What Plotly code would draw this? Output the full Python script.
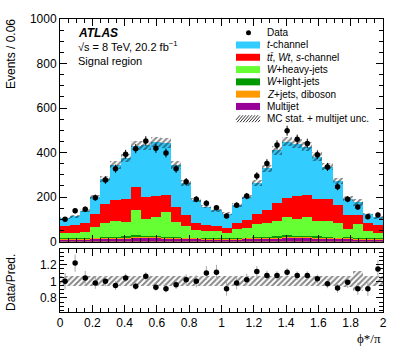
import numpy as np
import plotly.graph_objects as go

# Binning: 32 bins in phi*/pi from 0 to 2
bin_lo, bin_hi, n_bins = 0.0, 2.0, 32

# Observed data (events per bin)
data = [100, 138, 145, 197, 276, 327, 392, 417, 452, 419, 398, 327, 269, 190, 172, 152,
        115, 163, 204, 294, 351, 434, 498, 459, 441, 390, 335, 246, 190, 155, 111, 119]

# Predicted contributions per bin
t_channel = [34, 37, 54, 76, 111, 157, 187, 186, 233, 244, 234, 190, 146, 106, 82, 70,
             64, 79, 103, 138, 188, 236, 252, 237, 217, 193, 147, 110, 72, 56, 40, 33]
ttbar_wt_s = [33, 36, 41, 57, 87, 93, 101, 102, 99, 92, 74, 65, 48, 30, 25, 23,
              24, 30, 38, 45, 57, 80, 88, 100, 99, 98, 98, 77, 62, 41, 38, 35]
w_heavy = [22, 26, 27, 50, 62, 72, 63, 115, 77, 88, 112, 68, 52, 35, 33, 32,
           23, 40, 41, 60, 63, 71, 82, 77, 83, 66, 70, 67, 36, 62, 32, 26]
w_light = [3, 3, 4, 3, 4, 5, 8, 6, 4, 5, 4, 4, 3, 3, 4, 3,
           3, 3, 4, 4, 5, 5, 6, 5, 7, 7, 4, 3, 8, 4, 3, 3]
z_diboson = [4, 3, 4, 4, 5, 5, 5, 6, 5, 5, 5, 5, 4, 4, 3, 3,
             3, 3, 4, 4, 5, 5, 6, 6, 5, 5, 5, 4, 4, 4, 3, 3]
multijet = [8, 8, 9, 10, 11, 12, 13, 15, 14, 14, 13, 12, 11, 10, 9, 9,
            8, 9, 10, 11, 12, 13, 15, 15, 14, 13, 12, 11, 10, 9, 8, 8]

# Data / prediction ratio
ratio = [1.00, 1.22, 1.04, 0.98, 1.00, 0.95, 1.04, 0.94, 1.06, 0.93, 0.91, 0.96, 1.02, 1.00, 1.10, 1.11,
         0.91, 0.98, 1.02, 1.12, 1.07, 1.07, 1.11, 1.07, 1.07, 1.03, 0.97, 0.92, 0.99, 0.91, 0.91, 1.15]

# relative MC stat + multijet uncertainty
rel_unc = [0.06, 0.06, 0.06, 0.06, 0.06, 0.06, 0.06, 0.06, 0.06, 0.06, 0.06, 0.06, 0.06, 0.06, 0.06, 0.06,
           0.06, 0.06, 0.06, 0.06, 0.06, 0.06, 0.06, 0.06, 0.06, 0.06, 0.06, 0.06, 0.07, 0.12, 0.06, 0.06]

width = (bin_hi - bin_lo) / n_bins
centers = bin_lo + width * (np.arange(n_bins) + 0.5)

# stack (bottom -> top)
components = [
    ("Multijet", multijet, "#990099"),
    ("Z+jets, diboson", z_diboson, "#FF9900"),
    ("W+light-jets", w_light, "#009900"),
    ("W+heavy-jets", w_heavy, "#66FF33"),
    ("ttbar, Wt, s-channel", ttbar_wt_s, "#FF0000"),
    ("t-channel", t_channel, "#33CCFF"),
]
cum = np.cumsum([np.array(c[1], dtype=float) for c in components], axis=0)
total = cum[-1]
unc = total * np.array(rel_unc) * 0.8

FONT = "Liberation Sans, Arial, sans-serif"
fig = go.Figure()

# draw the cumulative stacks from the top down so they overlay correctly
for i in reversed(range(len(components))):
    name, vals, col = components[i]
    fig.add_trace(go.Bar(x=centers, y=cum[i], width=width, marker=dict(color=col, line=dict(width=0)),
                         showlegend=False, xaxis="x", yaxis="y"))

hatch = dict(shape="/", fgcolor="#111111", bgcolor="rgba(0,0,0,0)", size=4, solidity=0.5)
fig.add_trace(go.Bar(x=centers, y=2 * unc, base=total - unc, width=width,
                     marker=dict(color="rgba(0,0,0,0)", line=dict(width=0), pattern=hatch),
                     showlegend=False, xaxis="x", yaxis="y"))

fig.add_trace(go.Scatter(x=centers, y=data, mode="markers",
                         marker=dict(color="black", size=5.5),
                         error_y=dict(type="data", array=np.sqrt(data), color="black", thickness=1, width=0),
                         showlegend=False, xaxis="x", yaxis="y"))

# ratio panel
fig.add_trace(go.Bar(x=centers, y=2 * np.array(rel_unc), base=1 - np.array(rel_unc), width=width,
                     marker=dict(color="rgba(0,0,0,0)", line=dict(width=0), pattern=hatch),
                     showlegend=False, xaxis="x2", yaxis="y2"))
ratio_err = np.array(ratio) / np.sqrt(data)
fig.add_trace(go.Scatter(x=centers, y=ratio, mode="markers",
                         marker=dict(color="black", size=5.5),
                         error_y=dict(type="data", array=ratio_err, color="#aaaaaa", thickness=1, width=0),
                         showlegend=False, xaxis="x2", yaxis="y2"))

# pixel -> paper helpers (plot area 60..383 x, 19..312 y)
def px(x):
    return (x - 60) / 323.0

def py(y):
    return (312 - y) / 293.0

axis_common = dict(showline=True, linecolor="black", linewidth=1, mirror="allticks",
                   ticks="inside", ticklen=7, tickcolor="black", showgrid=False, zeroline=False,
                   tickfont=dict(family=FONT, size=12, color="black"))

fig.update_layout(
    width=399, height=355,
    margin=dict(l=60, r=16, t=19, b=43),
    plot_bgcolor="white", paper_bgcolor="white",
    barmode="overlay", bargap=0,
    font=dict(family=FONT, color="black"),
    xaxis=dict(domain=[0, 1], anchor="y", range=[0, 2], dtick=0.2, showticklabels=False,
               minor=dict(ticks="inside", ticklen=4, dtick=0.05, tickcolor="black"), **axis_common),
    yaxis=dict(domain=[py(241.5), 1], anchor="x", range=[0, 1000], dtick=200,
               minor=dict(ticks="inside", ticklen=4, dtick=50, tickcolor="black"), **axis_common),
    xaxis2=dict(domain=[0, 1], anchor="y2", range=[0, 2], dtick=0.2, matches="x",
                tickvals=[0, 0.2, 0.4, 0.6, 0.8, 1, 1.2, 1.4, 1.6, 1.8, 2],
                ticktext=["0", "0.2", "0.4", "0.6", "0.8", "1", "1.2", "1.4", "1.6", "1.8", "2"],
                minor=dict(ticks="inside", ticklen=4, dtick=0.05, tickcolor="black"), **axis_common),
    yaxis2=dict(domain=[0, py(249)], anchor="x2", range=[0.63, 1.39],
                tickvals=[0.8, 1, 1.2], ticktext=["0.8", "1", "1.2"],
                minor=dict(ticks="inside", ticklen=4, dtick=0.05, tickcolor="black"), **axis_common),
)

ann = []
# axis titles
ann.append(dict(text="Events / 0.06", x=px(11), y=py(54), xref="paper", yref="paper", textangle=-90,
                showarrow=False, xanchor="center", yanchor="middle", font=dict(size=12)))
ann.append(dict(text="Data/Pred.", x=px(11), y=py(283), xref="paper", yref="paper", textangle=-90,
                showarrow=False, xanchor="center", yanchor="middle", font=dict(size=12)))
ann.append(dict(text="\u03d5*/\u03c0", x=1, y=py(338), xref="paper", yref="paper",
                showarrow=False, xanchor="right", yanchor="middle",
                font=dict(size=13, family="Liberation Serif, Times New Roman, serif")))
# ATLAS label
ann.append(dict(text="<b><i>ATLAS</i></b>", x=px(76), y=py(32.5), xref="paper", yref="paper",
                showarrow=False, xanchor="left", yanchor="middle", font=dict(size=12)))
ann.append(dict(text="\u221as = 8 TeV, 20.2 fb<sup>\u22121</sup>", x=px(76), y=py(46), xref="paper", yref="paper",
                showarrow=False, xanchor="left", yanchor="middle", font=dict(size=11)))
ann.append(dict(text="Signal region", x=px(76), y=py(60.5), xref="paper", yref="paper",
                showarrow=False, xanchor="left", yanchor="middle", font=dict(size=11)))

# manual legend
leg_labels = ["Data", "<i>t</i>-channel", "<i>tt\u0304</i>, <i>Wt</i>, <i>s</i>-channel",
              "<i>W</i>+heavy-jets", "<i>W</i>+light-jets", "<i>Z</i>+jets, diboson",
              "Multijet", "MC stat. + multijet unc."]
leg_colors = [None, "#33CCFF", "#FF0000", "#66FF33", "#009900", "#FF9900", "#990099", "hatch"]
shapes = []
for i, (lab, col) in enumerate(zip(leg_labels, leg_colors)):
    yc = 32.7 + 12.29 * i
    ann.append(dict(text=lab, x=px(265), y=py(yc), xref="paper", yref="paper", showarrow=False,
                    xanchor="left", yanchor="middle", font=dict(size=10)))
    if col is None:
        shapes.append(dict(type="circle", xref="paper", yref="paper", x0=px(246), x1=px(251),
                           y0=py(yc + 2.5), y1=py(yc - 2.5), fillcolor="black", line=dict(width=0)))
    elif col == "hatch":
        for xs in range(234, 260, 3):
            x0, y0, x1, y1 = xs, yc + 3.5, xs + 6, yc - 3.5
            if x0 < 236:
                y0 = y0 - (236 - x0) * 7 / 6
                x0 = 236
            if x1 > 260:
                y1 = y1 + (x1 - 260) * 7 / 6
                x1 = 260
            shapes.append(dict(type="line", xref="paper", yref="paper", x0=px(x0), x1=px(x1),
                               y0=py(y0), y1=py(y1), line=dict(color="#333333", width=1)))
    else:
        shapes.append(dict(type="rect", xref="paper", yref="paper", x0=px(236), x1=px(260),
                           y0=py(yc + 3.5), y1=py(yc - 3.5), fillcolor=col, line=dict(width=0)))

fig.update_layout(annotations=ann, shapes=shapes)

# remove the default page margin so the figure sits at the window origin
fig.write_html("out.html", config={"displayModeBar": False},
               post_script="document.body.style.margin='0';")
